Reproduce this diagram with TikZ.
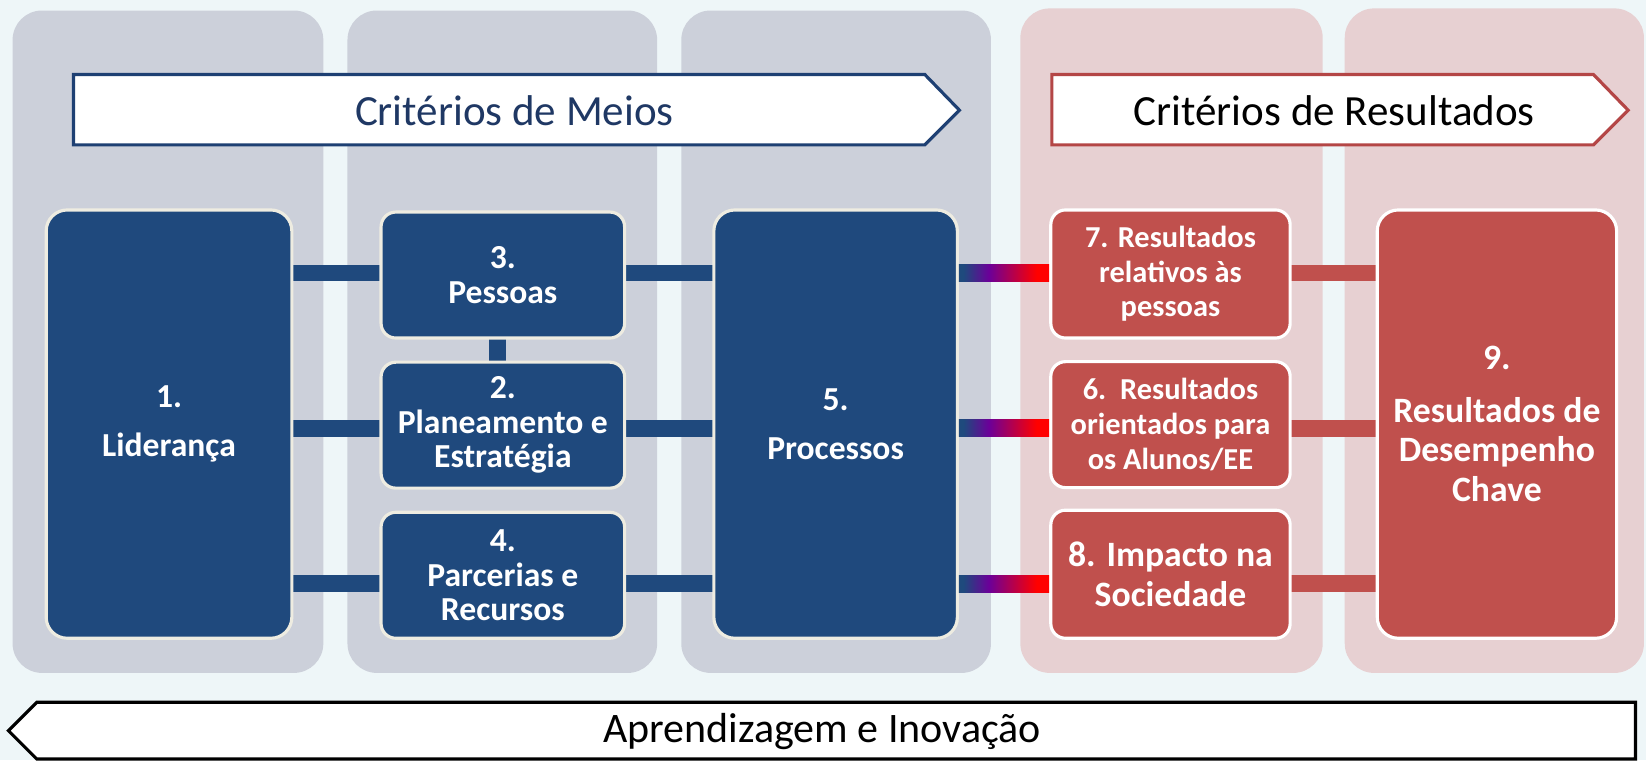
\documentclass[tikz,border=0pt]{standalone}
\usepackage{fontspec}
\setmainfont{Carlito}
\usetikzlibrary{calc}
\pgfdeclarelayer{back}
\pgfdeclarelayer{bars}
\pgfsetlayers{back,bars,main}
\definecolor{bgc}{RGB}{238,246,248}
\definecolor{panelgray}{RGB}{204,208,218}
\definecolor{panelpink}{RGB}{231,208,210}
\definecolor{navy}{RGB}{31,73,125}
\definecolor{cream}{RGB}{238,236,225}
\definecolor{redc}{RGB}{192,80,77}
\definecolor{meiosborder}{RGB}{30,64,115}
\definecolor{meiostext}{RGB}{31,56,100}
\definecolor{resborder}{RGB}{180,70,70}
\pgfdeclarehorizontalshading{navyred}{100bp}{rgb(0bp)=(0.12,0.29,0.49); rgb(25bp)=(0.12,0.29,0.49); rgb(27.5bp)=(0.12,0.29,0.49); rgb(41.5bp)=(0.42,0,0.6); rgb(68bp)=(1,0,0); rgb(75bp)=(1,0,0); rgb(100bp)=(1,0,0)}
\begin{document}
\begin{tikzpicture}[x=0.5pt,y=-0.5pt,
  navybox/.style={draw=cream, line width=1.5pt, fill=navy, text=white, align=center, inner sep=0pt,
    font=\bfseries\fontsize{16}{16.5}\selectfont},
  redbox/.style={draw=white, line width=1.5pt, fill=redc, text=white, align=center, inner sep=0pt},
  panelg/.style={fill=panelgray, rounded corners=14pt},
  panelp/.style={fill=panelpink, rounded corners=14pt},
  navybar/.style={draw=navy, line width=8pt},
  redbar/.style={draw=redc, line width=8pt},
  titlefont/.style={font=\fontsize{20.5}{24}\selectfont}
]
% background and panels
\begin{pgfonlayer}{back}
\fill[bgc] (0,0) rectangle (1568,724);
\fill[panelg] (12,10) rectangle (308,641);
\fill[panelg] (331,10) rectangle (626,641);
\fill[panelg] (649,10) rectangle (944,641);
\fill[panelp] (972,8) rectangle (1260,641);
\fill[panelp] (1281,8) rectangle (1566,641);
\end{pgfonlayer}

% header arrows
\draw[meiosborder, line width=1.5pt, fill=white] (70,71) -- (881,71) -- (914,105) -- (881,138) -- (70,138) -- cycle;
\node[titlefont, text=meiostext] (tm) at (490,105) {Critérios de Meios};
\draw[resborder, line width=1.5pt, fill=white] (1002,71) -- (1518,71) -- (1551,105) -- (1518,138) -- (1002,138) -- cycle;
\node[titlefont, text=black] (tr) at (1271,105) {Critérios de Resultados};

% bottom arrow
\draw[black, line width=1.5pt, fill=white] (35,669) -- (1558,669) -- (1558,723) -- (35,723) -- (8,696) -- cycle;
\node[font=\fontsize{20}{24}\selectfont, text=black] (ta) at (783,697) {Aprendizagem e Inovação};

% boxes
\node[navybox, minimum width=117pt, minimum height=204pt, rounded corners=10pt] (B1) at (161,404) {1.\\[7pt]Liderança};
\node[navybox, minimum width=116pt, minimum height=60pt, rounded corners=7pt] (B3) at (479,262) {3.\\Pessoas};
\node[navybox, minimum width=116pt, minimum height=60pt, rounded corners=7pt] (B2) at (479,405) {2.\\Planeamento e\\Estratégia};
\node[navybox, minimum width=116pt, minimum height=60pt, rounded corners=7pt] (B4) at (479,548) {4.\\Parcerias e\\Recursos};
\node[navybox, minimum width=116pt, minimum height=204pt, rounded corners=10pt] (B5) at (796,404) {5.\\[7pt]Processos};

\node[redbox, minimum width=114pt, minimum height=61pt, rounded corners=7pt,
  font=\bfseries\fontsize{14.5}{16.5}\selectfont] (B7) at (1115,261) {7. Resultados\\relativos às\\pessoas};
\node[redbox, minimum width=114pt, minimum height=60pt, rounded corners=7pt,
  font=\bfseries\fontsize{14.5}{16.5}\selectfont] (B6) at (1115,404.5) {6.\ \ Resultados\\orientados para\\os Alunos/EE};
\node[redbox, minimum width=114pt, minimum height=61pt, rounded corners=7pt,
  font=\bfseries\fontsize{17}{19}\selectfont] (B8) at (1115,547) {8. Impacto na\\Sociedade};
\node[redbox, minimum width=114pt, minimum height=204pt, rounded corners=10pt,
  font=\bfseries\fontsize{17}{19}\selectfont] (B9) at (1426,404) {9.\\[6pt]Resultados de\\Desempenho\\Chave};

% rows
\coordinate (r1) at (0,260);
\coordinate (r2) at (0,408);
\coordinate (r3) at (0,556);
\coordinate (cv) at (474,0);

\begin{pgfonlayer}{bars}
\draw[navybar] (B1.center |- r1) -- (B3.center |- r1);
\draw[navybar] (B1.center |- r2) -- (B2.center |- r2);
\draw[navybar] (B1.center |- r3) -- (B4.center |- r3);
\draw[navybar] (B3.center |- r1) -- (B5.center |- r1);
\draw[navybar] (B2.center |- r2) -- (B5.center |- r2);
\draw[navybar] (B4.center |- r3) -- (B5.center |- r3);
\draw[navybar] (cv |- B3.center) -- (cv |- B2.center);
\draw[redbar] (B7.center |- r1) -- (B9.center |- r1);
\draw[redbar] (B6.center |- r2) -- (B9.center |- r2);
\draw[redbar] (B8.center |- r3) -- (B9.center |- r3);
\end{pgfonlayer}
\shade[shading=navyred] ([yshift=4pt]B5.east |- r1) rectangle ([yshift=-4pt]B7.west |- r1);
\shade[shading=navyred] ([yshift=4pt]B5.east |- r2) rectangle ([yshift=-4pt]B6.west |- r2);
\shade[shading=navyred] ([yshift=4pt]B5.east |- r3) rectangle ([yshift=-4pt]B8.west |- r3);
\end{tikzpicture}
\end{document}
